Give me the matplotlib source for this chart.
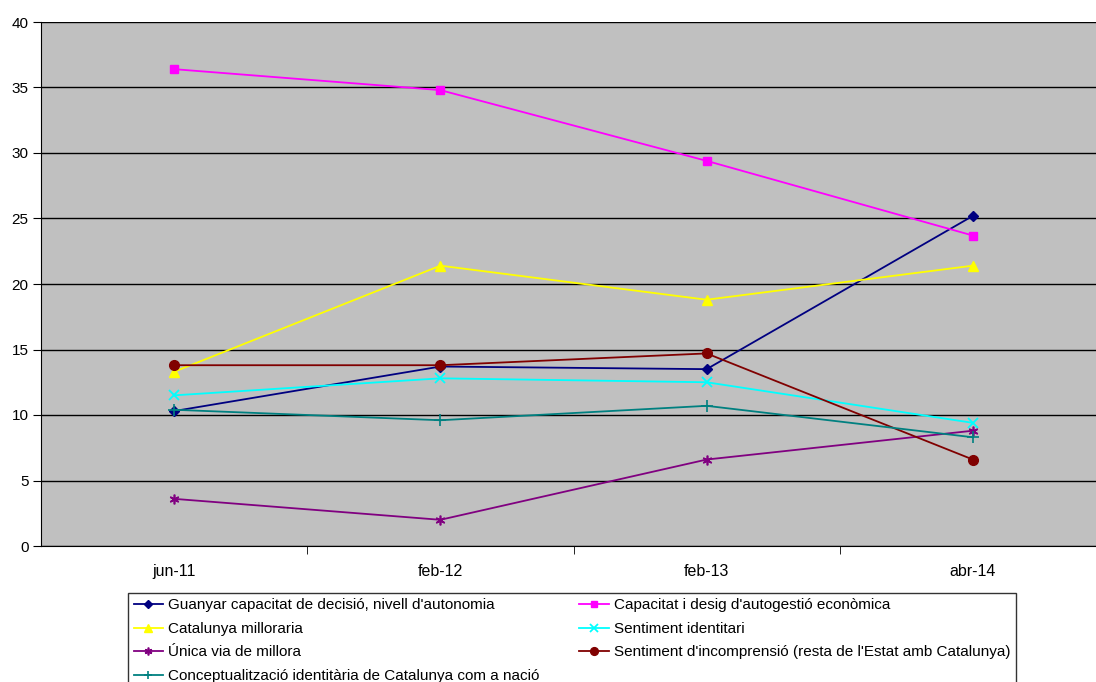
import matplotlib.pyplot as plt
from matplotlib.ticker import FixedLocator

plt.rcParams['font.family'] = ['Liberation Sans', 'DejaVu Sans']

periods = ['jun-11', 'feb-12', 'feb-13', 'abr-14']

guanyar = [10.3, 13.7, 13.5, 25.2]
capacitat = [36.4, 34.8, 29.4, 23.7]
milloraria = [13.3, 21.4, 18.8, 21.4]
identitari = [11.5, 12.8, 12.5, 9.4]
unica = [3.6, 2.0, 6.6, 8.8]
incomprensio = [13.8, 13.8, 14.7, 6.6]
conceptual = [10.4, 9.6, 10.7, 8.3]

x = range(len(periods))

fig = plt.figure(figsize=(10.96, 6.82), dpi=100)
W, H = 1096.0, 682.0
ax = fig.add_axes([41 / W, (H - 546) / H, (W - 41) / W, (546 - 22) / H])
ax.set_facecolor('#C0C0C0')

lw = 1.3
l1, = ax.plot(x, guanyar, color='#000080', marker='D', ms=5, lw=lw,
              label="Guanyar capacitat de decisió, nivell d'autonomia")
l2, = ax.plot(x, capacitat, color='#FF00FF', marker='s', ms=6, lw=lw,
              label="Capacitat i desig d'autogestió econòmica")
l3, = ax.plot(x, milloraria, color='#FFFF00', marker='^', ms=7, lw=lw,
              label='Catalunya milloraria')
l4, = ax.plot(x, identitari, color='#00FFFF', marker='x', ms=7, mew=1.3, lw=lw,
              label='Sentiment identitari')
l5, = ax.plot(x, unica, color='#800080', marker=(6, 2, 0), ms=7, mew=1.2, lw=lw,
              label='Única via de millora')
l6, = ax.plot(x, incomprensio, color='#800000', marker='o', ms=7, lw=lw,
              label="Sentiment d'incomprensió (resta de l'Estat amb Catalunya)")
l7, = ax.plot(x, conceptual, color='#008080', marker='+', ms=8, mew=1.2, lw=lw,
              label='Conceptualització identitària de Catalunya com a nació')

ax.set_ylim(0, 40)
ax.set_yticks(range(0, 41, 5))
ax.yaxis.grid(True, color='black', lw=1)
ax.set_axisbelow(True)
ax.set_xlim(-0.5, 3.5 - 10 / 266.0)
ax.set_xticks(list(x))
ax.set_xticklabels(periods)
ax.xaxis.set_minor_locator(FixedLocator([0.5, 1.5, 2.5]))
ax.tick_params(axis='x', which='major', length=0, pad=13, labelsize=11.5)
ax.tick_params(axis='x', which='minor', length=6, color='black')
ax.tick_params(axis='y', length=6, labelsize=11, pad=3)
for s in ['top', 'right']:
    ax.spines[s].set_visible(False)
for s in ['left', 'bottom']:
    ax.spines[s].set_color('black')

# row-wise ordering for two columns
handles = [l1, l3, l5, l7, l2, l4, l6]
leg = fig.legend(handles=handles, labels=[h.get_label() for h in handles],
                 ncol=2, loc='upper left',
                 bbox_to_anchor=(128 / W, 1 - 593 / H),
                 fontsize=11, frameon=True, fancybox=False, edgecolor='black',
                 handlelength=1.95, handletextpad=0.33, labelspacing=0.62,
                 columnspacing=2.6, borderpad=0.36, borderaxespad=0,
                 markerscale=0.8)
leg.get_frame().set_linewidth(1)

fig.savefig('out.png', dpi=100)
